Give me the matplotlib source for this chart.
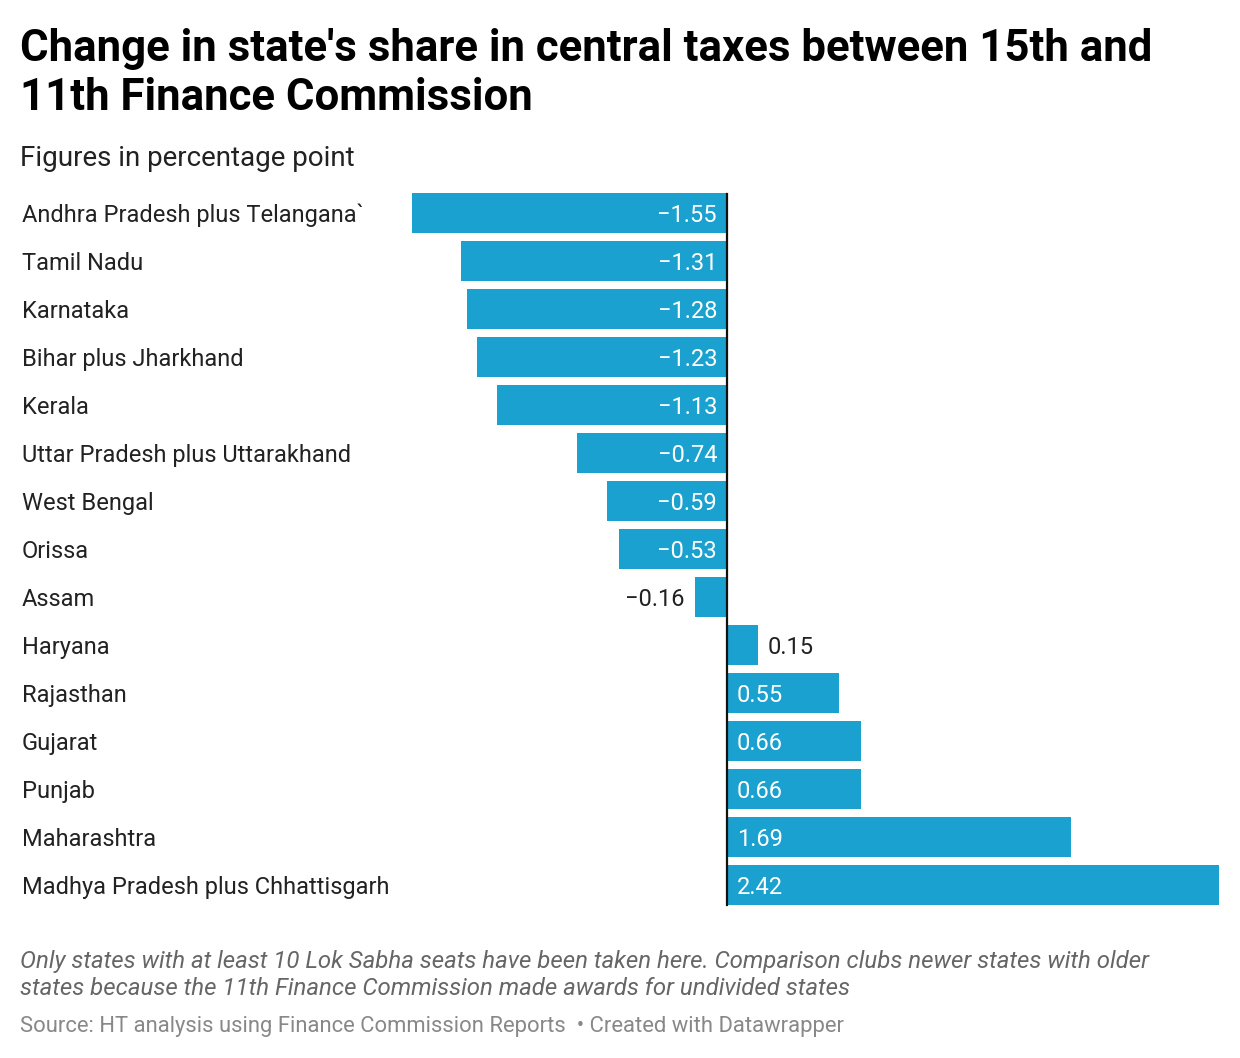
import matplotlib.pyplot as plt
from matplotlib.transforms import blended_transform_factory

states = [
    "Andhra Pradesh plus Telangana`",
    "Tamil Nadu",
    "Karnataka",
    "Bihar plus Jharkhand",
    "Kerala",
    "Uttar Pradesh plus Uttarakhand",
    "West Bengal",
    "Orissa",
    "Assam",
    "Haryana",
    "Rajasthan",
    "Gujarat",
    "Punjab",
    "Maharashtra",
    "Madhya Pradesh plus Chhattisgarh",
]
change = [-1.55, -1.31, -1.28, -1.23, -1.13, -0.74, -0.59, -0.53, -0.16,
          0.15, 0.55, 0.66, 0.66, 1.69, 2.42]

plt.rcParams['font.family'] = ['Roboto', 'DejaVu Sans']

W, H = 1240, 1058
fig = plt.figure(figsize=(W / 100, H / 100), dpi=100)
ax = fig.add_axes([412 / W, 1 - 909 / H, (1219 - 412) / W, 720 / H])

bar_color = "#1aa1cf"
ypos = list(range(len(states)))
ax.barh(ypos, change, height=0.83, color=bar_color)
ax.set_xlim(min(change), max(change))
ax.set_ylim(len(states) - 0.5, -0.5)
ax.axvline(0, color="#111111", lw=1.6, ymin=0.005, ymax=0.993)
ax.axis("off")

# state names at left edge of figure
tr = blended_transform_factory(fig.transFigure, ax.transData)
for y, name in zip(ypos, states):
    ax.text(22 / W, y, name, transform=tr, ha="left", va="center_baseline",
            fontsize=17, color="#222222")

# value labels
px = (max(change) - min(change)) / (1219 - 412)
for y, v in zip(ypos, change):
    txt = f"{v:.2f}".replace("-", "\u2212")
    inside = abs(v) > 0.3
    col = "white" if inside else "#222222"
    if v < 0:
        x = -10 * px if inside else v - 10 * px
        ha = "right"
    else:
        x = 10 * px if inside else v + 10 * px
        ha = "left"
    ax.text(x, y, txt, ha=ha, va="center_baseline", fontsize=17, color=col)

# title and subtitle
fig.text(20 / W, 1 - 61 / H, "Change in state's share in central taxes between 15th and",
         ha="left", va="baseline", fontsize=31.5, fontweight="bold", color="#000000")
fig.text(20 / W, 1 - 110 / H, "11th Finance Commission",
         ha="left", va="baseline", fontsize=31.5, fontweight="bold", color="#000000")
fig.text(20 / W, 1 - 166 / H, "Figures in percentage point", ha="left", va="baseline",
         fontsize=20, color="#222222")

# notes
fig.text(20 / W, 1 - 968 / H,
         "Only states with at least 10 Lok Sabha seats have been taken here. Comparison clubs newer states with older",
         ha="left", va="baseline", fontsize=17.3, style="italic", color="#666666")
fig.text(20 / W, 1 - 995 / H,
         "states because the 11th Finance Commission made awards for undivided states",
         ha="left", va="baseline", fontsize=17.3, style="italic", color="#666666")
fig.text(20 / W, 1 - 1032 / H,
         "Source: HT analysis using Finance Commission Reports  \u2022 Created with Datawrapper",
         ha="left", va="baseline", fontsize=15.8, color="#888888")

fig.savefig("out.png", dpi=100, facecolor="white")
